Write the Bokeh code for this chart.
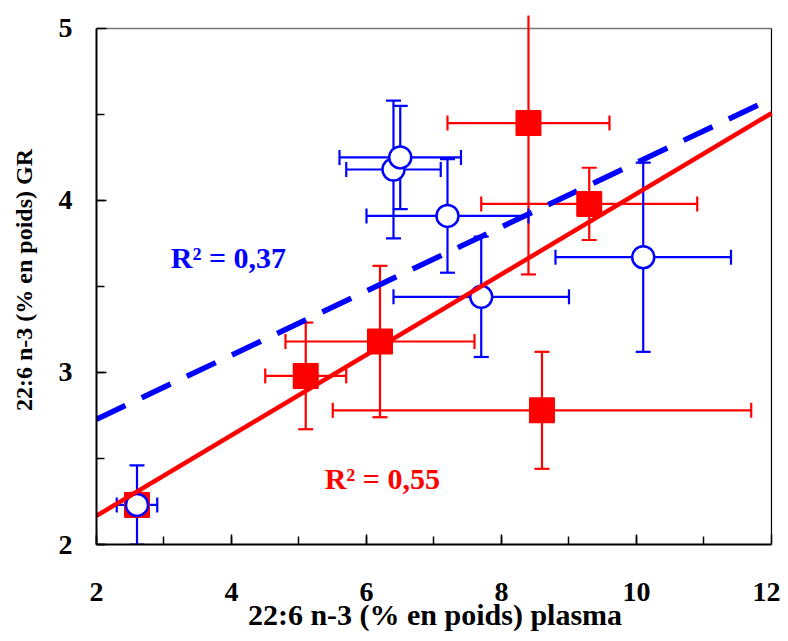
import numpy as np
from bokeh.plotting import figure
from bokeh.models import Range1d, Label, FixedTicker
from bokeh.embed import file_html
from bokeh.resources import INLINE

# ---- data ----
red_x = [2.6, 5.1, 6.2, 8.4, 9.3, 8.6]
red_y = [2.23, 2.98, 3.18, 4.45, 3.98, 2.78]
red_xerr = [0.15, 0.6, 1.4, 1.2, 1.6, 3.1]
red_yerr = [0.07, 0.31, 0.44, 0.88, 0.21, 0.34]

blue_x = [2.6, 6.4, 6.5, 7.2, 7.7, 10.1]
blue_y = [2.23, 4.18, 4.25, 3.91, 3.44, 3.67]
blue_xerr = [0.3, 0.7, 0.9, 1.2, 1.3, 1.3]
blue_yerr = [0.23, 0.40, 0.30, 0.33, 0.35, 0.55]

r2_blue = "0,37"
r2_red = "0,55"

x_ticks = [2, 4, 6, 8, 10, 12]
y_ticks = [2, 3, 4, 5]
x_title = "22:6 n-3 (% en poids) plasma"
y_title = "22:6 n-3 (% en poids) GR"

RED = "#FF0000"
BLUE = "#0000FF"
FONT = "Liberation Serif"

p = figure(width=780, height=633, output_backend="svg", toolbar_location=None,
           x_range=Range1d(2, 12.03), y_range=Range1d(2, 5.0752),
           min_border_left=96, min_border_right=7, min_border_top=15, min_border_bottom=87)
p.outline_line_color = None
p.grid.visible = False
p.background_fill_color = "white"
p.border_fill_color = "white"

for ax, ticks, bounds in ((p.xaxis, x_ticks, (2, 12)), (p.yaxis, y_ticks, (2, 5))):
    ax.ticker = FixedTicker(ticks=ticks,
                            minor_ticks=list(np.arange(ticks[0], ticks[-1], (ticks[1] - ticks[0]) / 2.0)))
    ax.bounds = bounds
    ax.axis_line_width = 2
    ax.axis_line_color = "black"
    ax.major_tick_in = 10
    ax.major_tick_out = 0
    ax.minor_tick_in = 8
    ax.minor_tick_out = 0
    ax.major_tick_line_width = 1.5
    ax.minor_tick_line_width = 1.5
    ax.major_label_text_font = FONT
    ax.major_label_text_font_style = "bold"
    ax.major_label_text_font_size = "28px"
    ax.major_label_text_color = "black"
    ax.axis_label_text_font = FONT
    ax.axis_label_text_font_style = "bold"
    ax.axis_label_text_color = "black"

p.xaxis.axis_label = x_title
p.yaxis.axis_label = y_title
p.xaxis.axis_label_text_font_size = "30px"
p.yaxis.axis_label_text_font_size = "24px"
p.xaxis.major_label_standoff = 38
p.xaxis.axis_label_standoff = -6
p.yaxis.major_label_standoff = 24
p.yaxis.axis_label_standoff = 19

# frame borders (top gray, right black)
p.segment(x0=[x_ticks[0]], y0=[y_ticks[-1]], x1=[x_ticks[-1]], y1=[y_ticks[-1]],
          line_color="#777777", line_width=1.5)
p.segment(x0=[x_ticks[-1]], y0=[y_ticks[0]], x1=[x_ticks[-1]], y1=[y_ticks[-1]],
          line_color="black", line_width=1.2)


def error_bars(xs, ys, xe, ye, color):
    xs, ys, xe, ye = map(np.asarray, (xs, ys, xe, ye))
    p.segment(x0=xs, y0=ys - ye, x1=xs, y1=ys + ye, line_color=color, line_width=2.2)
    p.segment(x0=xs - xe, y0=ys, x1=xs + xe, y1=ys, line_color=color, line_width=2.2)
    p.scatter(x=np.concatenate([xs, xs]), y=np.concatenate([ys - ye, ys + ye]),
              marker="dash", size=15, line_color=color, line_width=2.2)
    p.scatter(x=np.concatenate([xs - xe, xs + xe]), y=np.concatenate([ys, ys]),
              marker="dash", angle=np.pi / 2, size=15, line_color=color, line_width=2.2)


error_bars(red_x, red_y, red_xerr, red_yerr, RED)
error_bars(blue_x, blue_y, blue_xerr, blue_yerr, BLUE)

# regression lines (least squares on the data)
xfit = np.array([x_ticks[0], x_ticks[-1]], dtype=float)
bb = np.polyfit(blue_x, blue_y, 1)
rb = np.polyfit(red_x, red_y, 1)
p.line(xfit, np.polyval(bb, xfit), line_color=BLUE, line_width=5.5, line_dash="32 18")

p.scatter(x=red_x, y=red_y, marker="square", size=24, fill_color=RED, line_color=RED,
          line_width=2, line_join="round")
p.scatter(x=blue_x, y=blue_y, marker="circle", size=22, fill_color="white", line_color=BLUE, line_width=2.5)

p.line(xfit, np.polyval(rb, xfit), line_color=RED, line_width=4.5)

p.add_layout(Label(x=3.1, y=3.67, text="R\u00b2 = " + r2_blue, text_font=FONT, text_font_style="bold",
                   text_font_size="30px", text_color=BLUE, text_baseline="alphabetic"))
p.add_layout(Label(x=5.38, y=2.385, text="R\u00b2 = " + r2_red, text_font=FONT, text_font_style="bold",
                   text_font_size="30px", text_color=RED, text_baseline="alphabetic"))

open("out.html", "w").write(file_html(p, INLINE))
